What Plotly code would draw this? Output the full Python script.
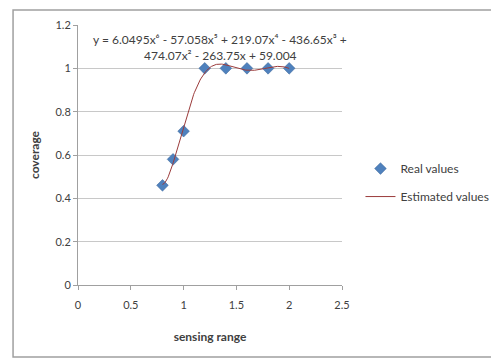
import numpy as np
import plotly.graph_objects as go

sensing_range = [0.8, 0.9, 1.0, 1.2, 1.4, 1.6, 1.8, 2.0]
coverage = [0.46, 0.58, 0.71, 1.0, 1.0, 1.0, 1.0, 1.0]
x_ticks = [0, 0.5, 1, 1.5, 2, 2.5]
x_tick_labels = ["0", "0.5", "1", "1.5", "2", "2.5"]
y_ticks = [0, 0.2, 0.4, 0.6, 0.8, 1.0, 1.2]
y_tick_labels = ["0", "0.2", "0.4", "0.6", "0.8", "1", "1.2"]
equation_lines = ["y = 6.0495x⁶ - 57.058x⁵ + 219.07x⁴ - 436.65x³ +",
                  "474.07x² - 263.75x + 59.004"]

# degree-6 polynomial trendline fitted to the real values
coef = np.polyfit(sensing_range, coverage, 6)
xs = np.linspace(min(sensing_range), max(sensing_range), 200)
ys = np.polyval(coef, xs)

FONT = "Lato"
fig = go.Figure()
fig.add_trace(go.Scatter(x=sensing_range, y=coverage, mode="markers", name="Real values",
                         legendgroup="a",
                         marker=dict(symbol="diamond", size=9, color="#4F81BD",
                                     line=dict(width=0.5, color="#3A6496"))))
fig.add_trace(go.Scatter(x=xs, y=ys, mode="lines", name="Estimated values",
                         legendgroup="b",
                         line=dict(color="#9B3B3B", width=1)))

fig.update_layout(
    width=499, height=359,
    margin=dict(l=70, r=165, t=17, b=82, autoexpand=False),
    paper_bgcolor="white", plot_bgcolor="white",
    font=dict(family=FONT, size=11, color="#404040"),
    showlegend=True,
    legend=dict(x=1.07, y=0.394, xanchor="left", yanchor="middle",
                font=dict(size=12, color="#404040"), tracegroupgap=9,
                itemwidth=30),
    xaxis=dict(range=[0, 2.5], tickvals=x_ticks, ticktext=x_tick_labels, automargin=False,
               showgrid=False, zeroline=False, showline=True, linecolor="#A0A0A0",
               ticks="outside", ticklen=4, tickcolor="#A0A0A0", ticklabelstandoff=6,
               title=dict(text="<b>sensing range</b>", font=dict(size=12, color="#404040"), standoff=22)),
    yaxis=dict(range=[0, 1.2], tickvals=y_ticks, ticktext=y_tick_labels, automargin=False,
               showgrid=True, gridcolor="#C8C8C8", zeroline=False, showline=True,
               linecolor="#A0A0A0", ticks="outside", ticklen=4, tickcolor="#A0A0A0",
               title=dict(text="<b>coverage</b>", font=dict(size=12, color="#404040"), standoff=13)),
)

for line_text, ypos in zip(equation_lines, [0.944, 0.884]):
    fig.add_annotation(xref="paper", yref="paper", x=0.538, y=ypos, yanchor="middle",
                       text=line_text, showarrow=False,
                       font=dict(size=12, color="#404040"), align="center")

fig.add_shape(type="rect", xref="paper", yref="paper", x0=-0.246, x1=1.59, y0=-0.277, y1=1.058,
              line=dict(color="#A0A0A0", width=1.5))

fig.write_html("out.html")
